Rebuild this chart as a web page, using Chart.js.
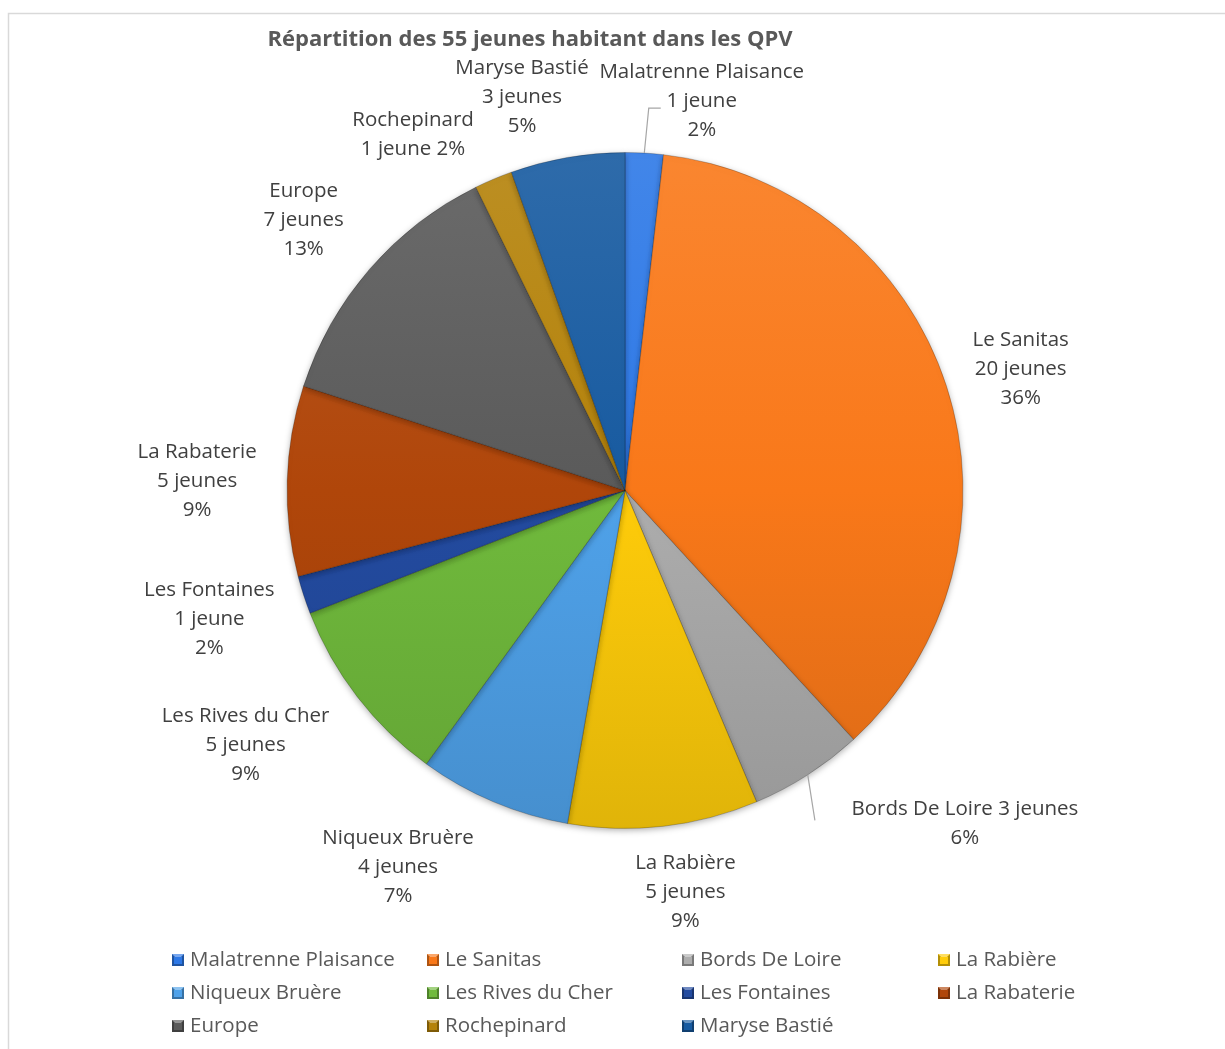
<!DOCTYPE html>
<html>
<head>
<meta charset="utf-8">
<script src="https://cdn.jsdelivr.net/npm/chart.js@4.4.0/dist/chart.umd.min.js"></script>
<style>
  html, body { margin: 0; padding: 0; background: #ffffff; }
  canvas { display: block; }
</style>
</head>
<body>
<canvas id="qpvChart" width="1225" height="1049"></canvas>
<script>
// Data
const titre = 'Répartition des 55 jeunes habitant dans les QPV';
const quartiers = ['Malatrenne Plaisance', 'Le Sanitas', 'Bords De Loire', 'La Rabière',
    'Niqueux Bruère', 'Les Rives du Cher', 'Les Fontaines', 'La Rabaterie',
    'Europe', 'Rochepinard', 'Maryse Bastié'];
const jeunes = [1, 20, 3, 5, 4, 5, 1, 5, 7, 1, 3];
const pourcentages = [2, 36, 6, 9, 7, 9, 2, 9, 13, 2, 5]; // as printed (Excel rounding)

// Slice colours (as seen in the middle of the pie)
const couleurs = ['#2D78E6', '#F97819', '#ADADAD', '#FFCC0A', '#4FA2EA', '#70BA3C',
    '#234BA0', '#B0460A', '#5A5A5A', '#B4820A', '#175AA0'];

// Label placement: how the lines are grouped, nudge from default spot, optional leader
const labelMode = ['stack', 'stack', 'head', 'stack', 'stack', 'stack', 'stack', 'stack', 'stack', 'tail', 'stack'];
const labelNudge = [[53, 26], [0, 7], [115, -17], [13, -12], [-65, -7], [-50, 1],
    [-20, 0], [-12, 3], [-7, 2], [-50, 27], [-32, 17]];
const labelLeader = [[[-53, 7], [-41, 7]], null, [[-150, -3]], null, null, null,
    null, null, null, null, null];

const FONT = '"Open Sans", Lato, sans-serif';

function shade(hex, amt) {
    const n = parseInt(hex.slice(1), 16);
    let r = n >> 16, g = (n >> 8) & 255, b = n & 255;
    const f = v => Math.round(amt >= 0 ? v + (255 - v) * amt : v * (1 + amt));
    return `rgb(${f(r)}, ${f(g)}, ${f(b)})`;
}

function texteJeunes(n) {
    return n + (n > 1 ? ' jeunes' : ' jeune');
}

function lignesLabel(i) {
    const nom = quartiers[i], nb = texteJeunes(jeunes[i]), pct = pourcentages[i] + '%';
    if (labelMode[i] === 'head') return [nom + ' ' + nb, pct];
    if (labelMode[i] === 'tail') return [nom, nb + ' ' + pct];
    return [nom, nb, pct];
}

// frame + title
const framePlugin = {
    id: 'frame',
    beforeDraw(chart) {
        const ctx = chart.ctx;
        ctx.save();
        ctx.strokeStyle = '#d9d9d9';
        ctx.lineWidth = 1.5;
        ctx.beginPath();
        ctx.moveTo(8.5, chart.height);
        ctx.lineTo(8.5, 13.5);
        ctx.lineTo(chart.width, 13.5);
        ctx.stroke();
        ctx.fillStyle = '#595959';
        ctx.font = 'bold 22px ' + FONT;
        ctx.textAlign = 'center';
        ctx.textBaseline = 'middle';
        ctx.fillText(titre, 530, 40);
        ctx.restore();
    }
};

// soft shadow under the pie
const shadowPlugin = {
    id: 'pieShadow',
    beforeDatasetsDraw(chart) {
        const ctx = chart.ctx;
        ctx.save();
        ctx.shadowColor = 'rgba(0, 0, 0, 0.3)';
        ctx.shadowBlur = 6;
        ctx.shadowOffsetY = 2;
    },
    afterDatasetsDraw(chart) {
        chart.ctx.restore();
    }
};

// data labels with leader lines
const labelPlugin = {
    id: 'qpvLabels',
    afterDatasetsDraw(chart) {
        const ctx = chart.ctx;
        const arcs = chart.getDatasetMeta(0).data;
        ctx.save();
        ctx.font = '20.5px ' + FONT;
        ctx.fillStyle = '#404040';
        ctx.textAlign = 'center';
        ctx.textBaseline = 'middle';
        arcs.forEach((arc, i) => {
            const mid = (arc.startAngle + arc.endAngle) / 2;
            const R = arc.outerRadius + 78;
            const cx = arc.x + Math.cos(mid) * R + labelNudge[i][0];
            const cy = arc.y + Math.sin(mid) * R + labelNudge[i][1];
            const lignes = lignesLabel(i);
            const lh = 29;
            const y0 = cy - (lignes.length - 1) * lh / 2;
            lignes.forEach((t, k) => ctx.fillText(t, cx, y0 + k * lh));

            if (labelLeader[i]) {
                ctx.strokeStyle = '#a6a6a6';
                ctx.lineWidth = 1.2;
                ctx.beginPath();
                ctx.moveTo(arc.x + Math.cos(mid) * arc.outerRadius, arc.y + Math.sin(mid) * arc.outerRadius);
                labelLeader[i].forEach(p => ctx.lineTo(cx + p[0], cy + p[1]));
                ctx.stroke();
            }
        });
        ctx.restore();
    }
};

// legend laid out in a fixed 4-column grid like Excel
const legendPlugin = {
    id: 'gridLegend',
    afterDraw(chart) {
        const ctx = chart.ctx;
        const colX = [172, 427, 682, 938];
        const rowY = [960, 993, 1026];
        ctx.save();
        ctx.font = '20.5px ' + FONT;
        ctx.textBaseline = 'middle';
        ctx.textAlign = 'left';
        quartiers.forEach((nom, i) => {
            const x = colX[i % 4], y = rowY[Math.floor(i / 4)];
            const s = 12, top = y - s / 2;
            const c = couleurs[i];
            // bevelled square marker
            ctx.fillStyle = shade(c, -0.3);
            ctx.fillRect(x, top, s, s);
            ctx.fillStyle = shade(c, 0.35);
            ctx.beginPath();
            ctx.moveTo(x, top); ctx.lineTo(x + s, top); ctx.lineTo(x + s / 2, top + s / 2);
            ctx.closePath(); ctx.fill();
            ctx.fillStyle = c;
            ctx.fillRect(x + 2, top + 3, s - 4, s - 5);
            ctx.fillStyle = '#595959';
            ctx.fillText(nom, x + 18, y);
        });
        ctx.restore();
    }
};

const canvas = document.getElementById('qpvChart');
const chart = new Chart(canvas, {
    type: 'pie',
    data: {
        labels: quartiers,
        datasets: [{
            data: jeunes,
            backgroundColor: function(context) {
                const base = couleurs[context.dataIndex];
                const area = context.chart.chartArea;
                if (!area) return base;
                const g = context.chart.ctx.createLinearGradient(0, area.top, 0, area.bottom);
                g.addColorStop(0, shade(base, 0.1));
                g.addColorStop(0.5, base);
                g.addColorStop(1, shade(base, -0.12));
                return g;
            },
            borderColor: 'rgba(0, 0, 0, 0.22)',
            borderWidth: 1
        }]
    },
    options: {
        responsive: false,
        animation: false,
        layout: {
            padding: { top: 152, bottom: 220, left: 100, right: 75 }
        },
        plugins: {
            legend: { display: false },
            title: { display: false },
            tooltip: { enabled: false }
        }
    },
    plugins: [framePlugin, shadowPlugin, labelPlugin, legendPlugin]
});
</script>
</body>
</html>
